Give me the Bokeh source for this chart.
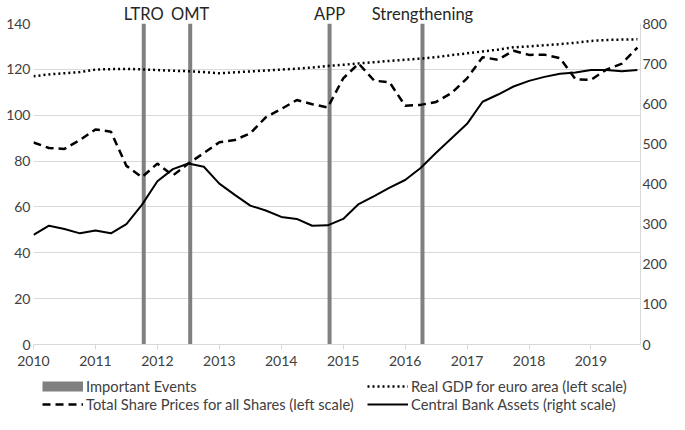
from bokeh.plotting import figure
from bokeh.layouts import column
from bokeh.models import Range1d, LinearAxis, FixedTicker, Legend, LegendItem
from bokeh.embed import file_html
from bokeh.resources import INLINE

# ---------------- data ----------------
years = [2010, 2011, 2012, 2013, 2014, 2015, 2016, 2017, 2018, 2019]
quarter_offsets = [0.0, 0.25, 0.5, 0.75]
dates = [y + q for y in years for q in quarter_offsets]

share_prices = [88.1, 85.7, 85.3, 89.2, 93.8, 92.8, 77.9, 73.0, 78.9, 73.7,
                78.9, 83.5, 88.2, 89.2, 92.1, 99.1, 102.7, 106.6, 104.8, 103.4,
                116.1, 122.5, 115.1, 114.3, 104.1, 104.5, 105.8, 109.7, 116.1, 125.3,
                124.2, 128.1, 126.3, 126.4, 124.9, 115.7, 115.4, 119.9, 122.5, 129.5]

gdp = [117.0, 117.8, 118.3, 118.8, 119.9, 120.1, 120.2, 120.0, 119.7, 119.4,
       119.2, 118.8, 118.3, 118.7, 119.1, 119.5, 119.9, 120.3, 120.8, 121.5,
       122.0, 122.6, 123.1, 123.7, 124.2, 124.7, 125.3, 126.2, 127.0, 127.8,
       128.6, 129.6, 130.0, 130.5, 131.0, 131.6, 132.4, 132.8, 133.0, 133.1]

cb_assets = [273, 296, 288, 277, 284, 277, 300, 348, 407, 437,
             451, 443, 401, 373, 346, 334, 318, 313, 296, 297,
             313, 350, 370, 391, 410, 440, 478, 514, 550, 605,
             623, 643, 657, 667, 675, 678, 684, 684, 681, 684]

event_names = ["LTRO", "OMT", "APP", "Strengthening"]
event_dates = [2011.78, 2012.53, 2014.78, 2016.28]

left_ticks = [0, 20, 40, 60, 80, 100, 120, 140]
right_ticks = [0, 100, 200, 300, 400, 500, 600, 700, 800]

legend_labels = ["Important Events",
                 "Real GDP for euro area (left scale)",
                 "Total Share Prices for all Shares (left scale)",
                 "Central Bank Assets (right scale)"]

# ---------------- style ----------------
FONT = "Lato"
TEXT = "#404040"
GRID = "#d9d9d9"
EVENT = "#808080"

p = figure(width=669, height=376, output_backend="svg", toolbar_location=None,
           x_range=Range1d(years[0], 2019.8), y_range=Range1d(left_ticks[0], left_ticks[-1]),
           min_border_left=0, min_border_right=0, min_border_top=22, min_border_bottom=32)
p.extra_y_ranges = {"right": Range1d(right_ticks[0], right_ticks[-1])}
p.outline_line_color = None

# grid
p.xgrid.visible = False
p.ygrid.grid_line_color = GRID
p.ygrid.grid_line_width = 1

# left axis
ya = p.yaxis[0]
ya.ticker = FixedTicker(ticks=left_ticks)
ya.axis_line_color = None
ya.major_tick_line_color = None
ya.major_tick_out = 0
ya.major_tick_in = 0
ya.minor_tick_line_color = None
ya.major_label_standoff = 3
ya.major_label_text_font = FONT
ya.major_label_text_font_size = "14px"
ya.major_label_text_color = TEXT

# bottom axis
xa = p.xaxis[0]
xa.ticker = FixedTicker(ticks=years)
xa.major_label_overrides = {y: str(y) for y in years}
xa.axis_line_color = GRID
xa.major_tick_line_color = GRID
xa.major_tick_out = 5
xa.major_tick_in = 0
xa.minor_tick_line_color = None
xa.major_label_standoff = 6
xa.major_label_text_font = FONT
xa.major_label_text_font_size = "14px"
xa.major_label_text_color = TEXT

# right axis
ra = LinearAxis(y_range_name="right", ticker=FixedTicker(ticks=right_ticks))
ra.axis_line_color = GRID
ra.major_tick_line_color = None
ra.major_tick_out = 0
ra.major_tick_in = 0
ra.minor_tick_line_color = None
ra.major_label_standoff = 2
ra.major_label_text_font = FONT
ra.major_label_text_font_size = "14px"
ra.major_label_text_color = TEXT
p.add_layout(ra, "right")

# event names as an axis above the frame
ea = LinearAxis(ticker=FixedTicker(ticks=event_dates))
ea.major_label_overrides = {d: n for d, n in zip(event_dates, event_names)}
ea.axis_line_color = None
ea.major_tick_line_color = None
ea.major_tick_out = 0
ea.major_tick_in = 0
ea.minor_tick_line_color = None
ea.major_label_standoff = 0
ea.major_label_text_font = FONT
ea.major_label_text_font_size = "16.5px"
ea.major_label_text_color = "#262626"
p.add_layout(ea, "above")

# events
p.segment(x0=event_dates, y0=[left_ticks[0]] * len(event_dates),
          x1=event_dates, y1=[left_ticks[-1]] * len(event_dates),
          line_width=4, line_color=EVENT)

# series
p.line(dates, gdp, line_color="black", line_width=2.5, line_dash="2 3")
p.line(dates, share_prices, line_color="black", line_width=2.5, line_dash="8 5")
p.line(dates, cb_assets, line_color="black", line_width=2, y_range_name="right")

# ---------------- legend strip ----------------
lg = figure(width=669, height=38, output_backend="svg", toolbar_location=None,
            x_range=Range1d(0, 1), y_range=Range1d(0, 1),
            min_border_left=33, min_border_right=0, min_border_top=0, min_border_bottom=0)
lg.axis.visible = False
lg.grid.visible = False
lg.outline_line_color = None

nan = [float("nan")]
r_ev = lg.line(nan, nan, line_width=10, line_color=EVENT)
r_gdp = lg.line(nan, nan, line_color="black", line_width=2.5, line_dash="2 3")
r_sh = lg.line(nan, nan, line_color="black", line_width=2.5, line_dash="8 5")
r_cb = lg.line(nan, nan, line_color="black", line_width=2)

legend = Legend(items=[LegendItem(label=legend_labels[0], renderers=[r_ev]),
                       LegendItem(label=legend_labels[1], renderers=[r_gdp]),
                       LegendItem(label=legend_labels[2], renderers=[r_sh]),
                       LegendItem(label=legend_labels[3], renderers=[r_cb])],
                orientation="horizontal", ncols=2, location=(9, 1),
                glyph_width=41, glyph_height=16, label_height=16, label_width=281,
                label_standoff=3, spacing=0, padding=0, margin=0,
                border_line_color=None, background_fill_alpha=0,
                label_text_font=FONT, label_text_font_size="14.7px", label_text_color=TEXT)
lg.add_layout(legend)

open("out.html", "w").write(file_html(column(p, lg, spacing=0), INLINE))
